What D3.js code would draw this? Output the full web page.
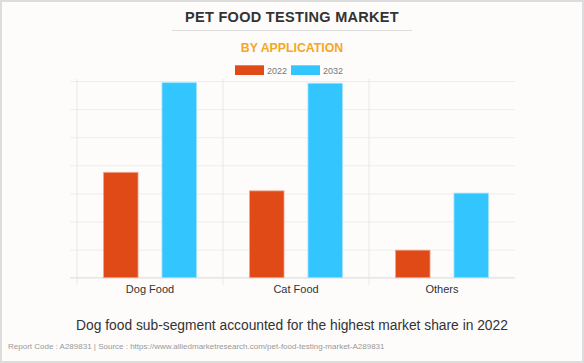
<!DOCTYPE html>
<html>
<head>
<meta charset="utf-8">
<style>
  html, body { margin: 0; padding: 0; background: #fff; }
  svg { display: block; font-family: "Liberation Sans", Arial, sans-serif; }
</style>
</head>
<body>
<div id="viz"></div>
<script src="https://cdnjs.cloudflare.com/ajax/libs/d3/7.8.5/d3.min.js"></script>
<script>
// data (units arbitrary - axis has no labels)
var categories = ["Dog Food", "Cat Food", "Others"];
var years = ["2022", "2032"];
var values2022 = [37.5, 30.9, 9.8];
var values2032 = [69.4, 69.2, 30.1];
var yTicks = [0, 10, 20, 30, 40, 50, 60, 70];
var colors = ["#E04A16", "#33C6FE"];

var width = 584, height = 363;
var margin = { top: 81, right: 69, bottom: 85.3, left: 77 };

var svg = d3.select("#viz")
    .append("svg")
    .attr("width", width)
    .attr("height", height);

// background + border
svg.append("rect")
    .attr("x", 1).attr("y", 1)
    .attr("width", width - 2).attr("height", height - 2)
    .attr("fill", "#FDFCFB")
    .attr("stroke", "#DCDCDC")
    .attr("stroke-width", 2);

// titles
svg.append("text")
    .attr("x", 292).attr("y", 21.7)
    .attr("text-anchor", "middle")
    .attr("font-size", 14.5).attr("font-weight", "bold")
    .attr("fill", "#333")
    .attr("letter-spacing", 0.3)
    .text("PET FOOD TESTING MARKET");

svg.append("line")
    .attr("x1", 172).attr("x2", 412)
    .attr("y1", 30.5).attr("y2", 30.5)
    .attr("stroke", "#DDDDDD").attr("stroke-width", 1);

svg.append("text")
    .attr("x", 292).attr("y", 52.3)
    .attr("text-anchor", "middle")
    .attr("font-size", 12.3).attr("font-weight", "bold")
    .attr("fill", "#F5A623")
    .text("BY APPLICATION");

// legend
var legend = svg.append("g");
years.forEach(function (yr, i) {
    var lx = 235 + i * 56;
    legend.append("rect")
        .attr("x", lx).attr("y", 65.3)
        .attr("width", 29).attr("height", 9.7)
        .attr("fill", colors[i]);
    legend.append("text")
        .attr("x", lx + 32).attr("y", 73.5)
        .attr("font-size", 9).attr("fill", "#777")
        .text(yr);
});

// scales
var x0 = d3.scaleBand()
    .domain(categories)
    .range([margin.left, width - margin.right])
    .padding(0);

var x1 = d3.scaleBand()
    .domain(years)
    .range([0, x0.bandwidth()])
    .paddingInner(0.41)
    .paddingOuter(0.455);

var y = d3.scaleLinear()
    .domain([0, 70])
    .range([height - margin.bottom, margin.top]);

// horizontal grid
svg.append("g")
    .attr("transform", "translate(" + margin.left + ",0)")
    .call(d3.axisLeft(y).tickValues(yTicks)
        .tickSize(-(width - margin.left - margin.right))
        .tickSizeOuter(0)
        .tickFormat(""))
    .call(function (g) { g.select(".domain").remove(); })
    .call(function (g) {
        g.selectAll(".tick line")
            .attr("x1", -7)
            .attr("stroke", "#EDEDED");
    });

// vertical category lines
svg.append("g").selectAll("line")
    .data(categories)
    .enter().append("line")
    .attr("x1", function (d) { return x0(d); })
    .attr("x2", function (d) { return x0(d); })
    .attr("y1", margin.top - 2)
    .attr("y2", height - margin.bottom + 7)
    .attr("stroke", "#E8E8E8");

// baseline
svg.append("line")
    .attr("x1", margin.left - 7).attr("x2", width - margin.right)
    .attr("y1", y(0)).attr("y2", y(0))
    .attr("stroke", "#E3E3E3");

// bars
var rows = categories.map(function (c, i) {
    return { cat: c, vals: [values2022[i], values2032[i]] };
});

var groups = svg.append("g").selectAll("g")
    .data(rows)
    .enter().append("g")
    .attr("transform", function (d) { return "translate(" + x0(d.cat) + ",0)"; });

groups.selectAll("rect")
    .data(function (d) {
        return d.vals.map(function (v, i) { return { yr: years[i], v: v, i: i }; });
    })
    .enter().append("rect")
    .attr("x", function (d) { return x1(d.yr); })
    .attr("y", function (d) { return y(d.v); })
    .attr("width", x1.bandwidth())
    .attr("height", function (d) { return y(0) - y(d.v); })
    .attr("fill", function (d) { return colors[d.i]; })
    .attr("stroke", function (d) { return d.i === 0 ? "#F2A38A" : "#9BE2FF"; })
    .attr("stroke-width", 0.8);

// x labels
svg.append("g")
    .attr("transform", "translate(0," + y(0) + ")")
    .call(d3.axisBottom(x0).tickSize(0).tickPadding(7.5))
    .call(function (g) { g.select(".domain").remove(); })
    .call(function (g) {
        g.selectAll("text")
            .attr("font-size", 11)
            .attr("font-family", "'Liberation Sans', Arial, sans-serif")
            .attr("fill", "#333");
    });

// caption
svg.append("text")
    .attr("x", 292).attr("y", 329.5)
    .attr("text-anchor", "middle")
    .attr("font-size", 13.8)
    .attr("fill", "#333")
    .text("Dog food sub-segment accounted for the highest market share in 2022");

svg.append("text")
    .attr("x", 8).attr("y", 349)
    .attr("font-size", 8)
    .attr("fill", "#999")
    .text("Report Code : A289831  |  Source : https://www.alliedmarketresearch.com/pet-food-testing-market-A289831");
</script>
</body>
</html>
